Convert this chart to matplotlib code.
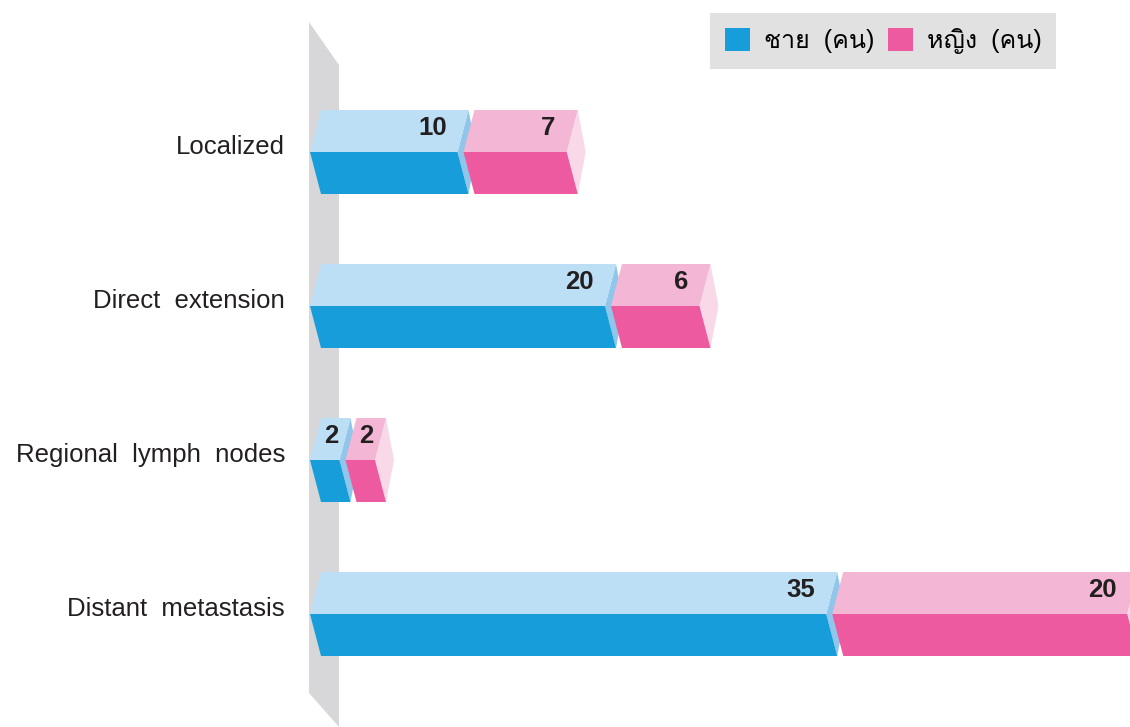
import numpy as np
import matplotlib.pyplot as plt
from matplotlib import font_manager
from matplotlib.ft2font import FT2Font
from matplotlib.patches import Polygon, Patch

categories = ['Localized', 'Direct  extension', 'Regional  lymph  nodes', 'Distant  metastasis']
male = [10, 20, 2, 35]
female = [7, 6, 2, 20]
series_names = ['ชาย  (คน)', 'หญิง  (คน)']

# top face, front face, end cap
male_colors = ('#bcdff5', '#179dd9', '#8fc6ea')
female_colors = ('#f3b6d5', '#ee5aa0', '#f9d9e8')
wall_color = '#d7d7d9'
legend_bg = '#e1e1e1'
text_color = '#231f20'


def find_thai_family():
    # first installed font that has Thai glyphs
    for f in font_manager.fontManager.ttflist:
        try:
            font = FT2Font(f.fname)
            if font.get_char_index(0x0E0A) and font.get_char_index(0x0E0D):
                return f.name
        except Exception:
            continue
    return None


thai = find_thai_family()
families = ['Liberation Sans', 'DejaVu Sans']
if thai:
    families = ['Liberation Sans', thai, 'DejaVu Sans']
plt.rcParams['font.family'] = families

W, H = 1130, 727
PX = 14.75          # pixels per count
ROW = 154.0         # pixels between category rows
X0, Y0 = 310, 152   # pixel position of value 0 / first row centre

fig = plt.figure(figsize=(W / 100, H / 100), dpi=100)
ax = fig.add_axes([0, 0, 1, 1])
ax.set_xlim(-X0 / PX, (W - X0) / PX)
ax.set_ylim((H - Y0) / ROW, -Y0 / ROW)
ax.axis('off')

slant = 11 / PX     # horizontal offset of the top/bottom edges
cap = 8 / PX        # depth of the end cap
gap = 6 / PX        # gap between segments
half = 42 / ROW     # half bar height

# grey base wall behind the bars
wx0, wx1 = -1 / PX, 29 / PX
ax.add_patch(Polygon([(wx0, -130 / ROW), (wx1, -87 / ROW), (wx1, 575 / ROW), (wx0, 541 / ROW)],
                     closed=True, facecolor=wall_color, edgecolor='none', zorder=1))


def prism(x0, x1, y, cols):
    top, front, end = cols
    yt, yb = y - half, y + half
    ax.add_patch(Polygon([(x1 + slant, yt), (x1 + slant + cap, y), (x1 + slant, yb), (x1, y)],
                         closed=True, facecolor=end, edgecolor='none', zorder=2))
    ax.add_patch(Polygon([(x0 + slant, yt), (x1 + slant, yt), (x1, y), (x0, y)],
                         closed=True, facecolor=top, edgecolor='none', zorder=3))
    ax.add_patch(Polygon([(x0, y), (x1, y), (x1 + slant, yb), (x0 + slant, yb)],
                         closed=True, facecolor=front, edgecolor='none', zorder=3))


def value_label(x0, x1, y, v):
    if x1 - x0 > 4:
        ax.text(x1 + slant - 22 / PX, y - 24 / ROW, str(v), ha='right', va='center',
                fontsize=18.5, fontweight='bold', color=text_color, zorder=5)
    else:
        ax.text((x0 + x1) / 2 + slant / 2 + 1 / PX, y - 24 / ROW, str(v), ha='center', va='center',
                fontsize=18.5, fontweight='bold', color=text_color, zorder=5)


for i, (cat, m, f) in enumerate(zip(categories, male, female)):
    y = i
    prism(0, m, y, male_colors)
    value_label(0, m, y, m)
    fs = m + gap
    prism(fs, fs + f, y, female_colors)
    value_label(fs, fs + f, y, f)
    ax.text(-25 / PX, y - 5 / ROW, cat, ha='right', va='center', fontsize=18.5, color=text_color)

handles = [Patch(facecolor=male_colors[1], edgecolor='none'),
           Patch(facecolor=female_colors[1], edgecolor='none')]
leg = fig.legend(handles, series_names, loc='upper left', bbox_to_anchor=(710 / W, 1 - 13 / H),
                 ncol=2, frameon=True, fancybox=False, fontsize=18, handlelength=1.0,
                 handleheight=1.0, handletextpad=0.55, columnspacing=0.55, borderpad=0.6,
                 borderaxespad=0)
leg.get_frame().set_facecolor(legend_bg)
leg.get_frame().set_edgecolor('none')
leg.get_frame().set_alpha(1)

fig.savefig('out.png', dpi=100)
